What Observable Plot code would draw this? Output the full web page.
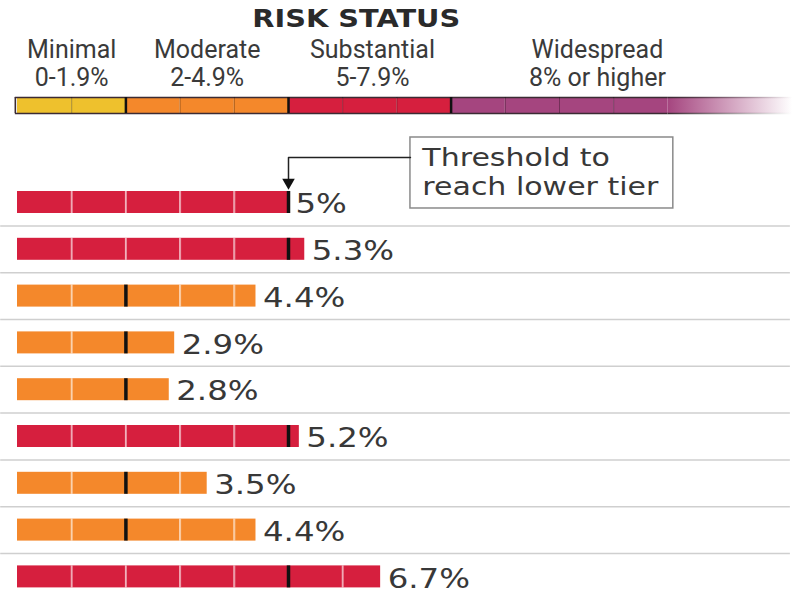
<!DOCTYPE html>
<html>
<head>
<meta charset="utf-8">
<script src="https://cdn.jsdelivr.net/npm/d3@7"></script>
<script src="https://cdn.jsdelivr.net/npm/@observablehq/plot@0.6"></script>
<style>
  html, body { margin: 0; padding: 0; background: #fff; }
</style>
</head>
<body>
<div id="chart"></div>
<script>
// ---- data ----
const rowValues = [5, 5.3, 4.4, 2.9, 2.8, 5.2, 3.5, 4.4, 6.7];
const tierNames = ["Minimal", "Moderate", "Substantial", "Widespread"];
const tierRanges = ["0-1.9%", "2-4.9%", "5-7.9%", "8% or higher"];
const tierStart = [0, 2, 5, 8];
const tierEnd = [2, 5, 8, 12];
const tierColors = ["#eec12d", "#f4882b", "#d61f3e", "#a5457f"];
const titleText = "RISK STATUS";
const noteText = "Threshold to\nreach lower tier";

// ---- derived ----
const tierOf = v => { let t = 0; tierStart.forEach((s, i) => { if (v >= s) t = i; }); return t; };
const rows = rowValues.map((v, i) => ({i, v, tier: tierOf(v), thr: tierStart[tierOf(v)]}));
const cells = rows.flatMap(r => d3.range(Math.ceil(r.v)).map(k => ({i: r.i, x1: k, x2: Math.min(k + 1, r.v), tier: r.tier})));
const cellSeps = rows.flatMap(r => d3.range(1, Math.ceil(r.v)).filter(k => k !== r.thr).map(k => ({i: r.i, x: k})));
const legendCells = tierStart.flatMap((s, t) => d3.range(s, tierEnd[t]).map(k => ({x1: k, x2: k + 1, tier: t})));
const legendSeps = d3.range(1, 12).filter(k => !tierStart.includes(k)).map(k => ({x: k}));
const legendMajor = tierStart.slice(1).map(x => ({x}));
const labelX = [1, 3.5, 6.55, 10.7];
const legend = tierNames.map((n, t) => ({name: n, range: tierRanges[t], x: labelX[t]}));

const H = 0.235;           // half bar height in row units
const LG = [-2.244, -1.902]; // legend bar band in row units

const plot = Plot.plot({
  width: 798,
  height: 595,
  marginTop: 0, marginBottom: 0, marginLeft: 0, marginRight: 0,
  x: {type: "linear", domain: [0, 14], range: [17, 17 + 14 * 54.2], axis: null},
  y: {type: "linear", domain: [0, 8], range: [202, 576.4], axis: null},
  style: {fontFamily: "DejaVu Sans, sans-serif", background: "#fff"},
  marks: [
    // row separators
    Plot.ruleY(d3.range(8), {y: d => d + 0.5, x1: -0.31, x2: 14.26, stroke: "#cfcfcf", strokeWidth: 1.5}),
    // bars
    Plot.rectX(cells, {x1: "x1", x2: "x2", y1: d => d.i - H, y2: d => d.i + H, fill: d => tierColors[d.tier], inset: 0}),
    Plot.ruleX(cellSeps, {x: "x", y1: d => d.i - H, y2: d => d.i + H, stroke: "#fff", strokeOpacity: 0.55, strokeWidth: 2}),
    Plot.ruleX(rows, {x: "thr", y1: d => d.i - H, y2: d => d.i + H, stroke: "#111", strokeWidth: 3.5}),
    Plot.text(rows, {x: "v", y: d => d.i, text: d => `${d.v}%`, dx: 7, dy: 2, textAnchor: "start", fontSize: 27, fill: "#383838"}),
    // legend bar
    Plot.rect(legendCells, {x1: "x1", x2: "x2", y1: LG[0], y2: LG[1], fill: d => tierColors[d.tier], inset: 0}),
    Plot.rect([0], {x1: 12, x2: 14.3, y1: LG[0], y2: LG[1], fill: "url(#fade)"}),
    Plot.ruleY([LG[0], LG[1]], {y: d => d, x1: -0.04, x2: 12, stroke: "#3b2b33", strokeWidth: 1.6}),
    Plot.ruleY([LG[0], LG[1]], {y: d => d, x1: 12, x2: 14.3, stroke: "url(#fadeLine)", strokeWidth: 1.6}),
    Plot.ruleX([0], {x: -0.04, y1: LG[0], y2: LG[1], stroke: "#3b2b33", strokeWidth: 1.6}),
    Plot.ruleX(legendSeps, {x: "x", y1: LG[0], y2: LG[1], stroke: "#000", strokeOpacity: 0.3, strokeWidth: 1}),
    Plot.ruleX(legendMajor, {x: "x", y1: LG[0], y2: LG[1], stroke: "#111", strokeWidth: 2.5}),
    // legend labels
    Plot.text(legend, {x: "x", y: -3.08, text: "name", fontFamily: "Roboto, sans-serif", fontSize: 25, fill: "#3a3a3a", lineAnchor: "bottom"}),
    Plot.text(legend, {x: "x", y: -2.5, text: "range", fontFamily: "Roboto, sans-serif", fontSize: 25, fill: "#3a3a3a", lineAnchor: "bottom"}),
    Plot.text([titleText], {x: 6.25, y: -3.76, text: d => d, fontSize: 24, fontWeight: "bold", fill: "#2a2a2a", lineAnchor: "bottom"}),
    // annotation
    Plot.rect([0], {x1: 7.25, x2: 12.1, y1: -1.389, y2: 0.128, fill: "#fff", stroke: "#8a8a8a", strokeWidth: 1.5}),
    Plot.text([noteText], {x: 7.47, y: -1.2, text: d => d, textAnchor: "start", lineAnchor: "top", lineHeight: 1.13, fontSize: 25, fill: "#383838"}),
    Plot.line([{x: 7.25, y: -0.96}, {x: 5.0, y: -0.96}, {x: 5.0, y: -0.5}], {x: "x", y: "y", stroke: "#222", strokeWidth: 1.5}),
    Plot.dot([0], {x: 5.0, y: -0.43, symbol: "triangle2", r: 6, fill: "#111", rotate: 180})
  ]
});

// horizontal stretch per text mark (in render order) to mimic the wide typeface
const stretch = [1.2, 1, 1, 1.2, 1.2];
d3.select(plot).selectAll('g[aria-label="text"]').each(function(_, k) {
  const s = stretch[k] || 1;
  if (s === 1) return;
  d3.select(this).selectAll("text").each(function() {
    const t = d3.select(this);
    let tr = t.attr("transform");
    if (!tr) {
      const x = +t.attr("x") || 0, y = +t.attr("y") || 0;
      t.attr("x", null).attr("y", null);
      tr = `translate(${x},${y})`;
    }
    t.attr("transform", `${tr} scale(${s},1)`);
  });
});

const defs = d3.select(plot).insert("defs", ":first-child");
const g = defs.append("linearGradient").attr("id", "fade").attr("x1", "0").attr("x2", "1").attr("y1", "0").attr("y2", "0");
g.append("stop").attr("offset", "0").attr("stop-color", "#a5457f");
g.append("stop").attr("offset", "1").attr("stop-color", "#a5457f").attr("stop-opacity", 0);
const g2 = defs.append("linearGradient").attr("id", "fadeLine").attr("gradientUnits", "userSpaceOnUse")
  .attr("x1", 17 + 12 * 54.2).attr("x2", 17 + 14.3 * 54.2).attr("y1", 0).attr("y2", 0);
g2.append("stop").attr("offset", "0").attr("stop-color", "#3b2b33");
g2.append("stop").attr("offset", "1").attr("stop-color", "#3b2b33").attr("stop-opacity", 0);

document.getElementById("chart").append(plot);
</script>
</body>
</html>
